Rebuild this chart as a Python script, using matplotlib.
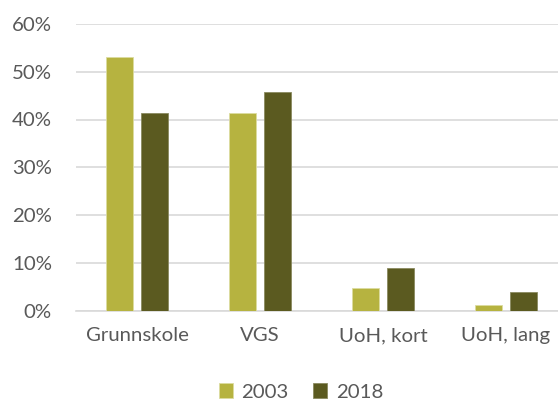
import numpy as np
import matplotlib
matplotlib.use("Agg")
import matplotlib.pyplot as plt
from matplotlib.ticker import PercentFormatter

# data
categories = ["Grunnskole", "VGS", "UoH, kort", "UoH, lang"]
years = ["2003", "2018"]
share_2003 = [53.0, 41.4, 4.7, 1.1]
share_2018 = [41.4, 45.7, 8.8, 3.9]

colors = ["#B6B340", "#5B5A20"]
text_color = "#595959"
grid_color = "#D9D9D9"

plt.rcParams["font.family"] = ["Lato", "DejaVu Sans"]

fig = plt.figure(figsize=(5.58, 4.03), dpi=100)
W, H = 558, 403
left, right = 75.5, 558
top, bottom = 24, 310.5
ax = fig.add_axes([left / W, 1 - bottom / H, (right - left) / W, (bottom - top) / H])

x = np.arange(len(categories))
bar_w = 0.22
offset = 0.142
ax.bar(x - offset, share_2003, bar_w, color=colors[0], edgecolor="#dcdca0", linewidth=0.6,
       label=years[0], zorder=3)
ax.bar(x + offset, share_2018, bar_w, color=colors[1], edgecolor="#8a8a60", linewidth=0.6,
       label=years[1], zorder=3)

ax.set_xlim(-0.5, -0.5 + (right - left) / 123)
ax.set_ylim(0, 60)
ax.set_yticks(range(0, 61, 10))
ax.yaxis.set_major_formatter(PercentFormatter(decimals=0))
ax.set_xticks(x)
ax.set_xticklabels(categories)

ax.grid(axis="y", color=grid_color, linewidth=1.2, zorder=0)
for side in ["top", "right", "left"]:
    ax.spines[side].set_visible(False)
ax.spines["bottom"].set_color(grid_color)
ax.spines["bottom"].set_linewidth(1.2)
ax.tick_params(axis="both", length=0, labelsize=14.7, labelcolor=text_color)
ax.tick_params(axis="y", pad=17)
ax.tick_params(axis="x", pad=12)

fig.legend(loc="center", bbox_to_anchor=(301 / W, 1 - 392 / H), ncol=2, frameon=False,
           fontsize=14.7, labelcolor=text_color, handlelength=0.7, handleheight=0.7,
           handletextpad=0.4, columnspacing=1.2)

fig.savefig("out.png", dpi=100)
